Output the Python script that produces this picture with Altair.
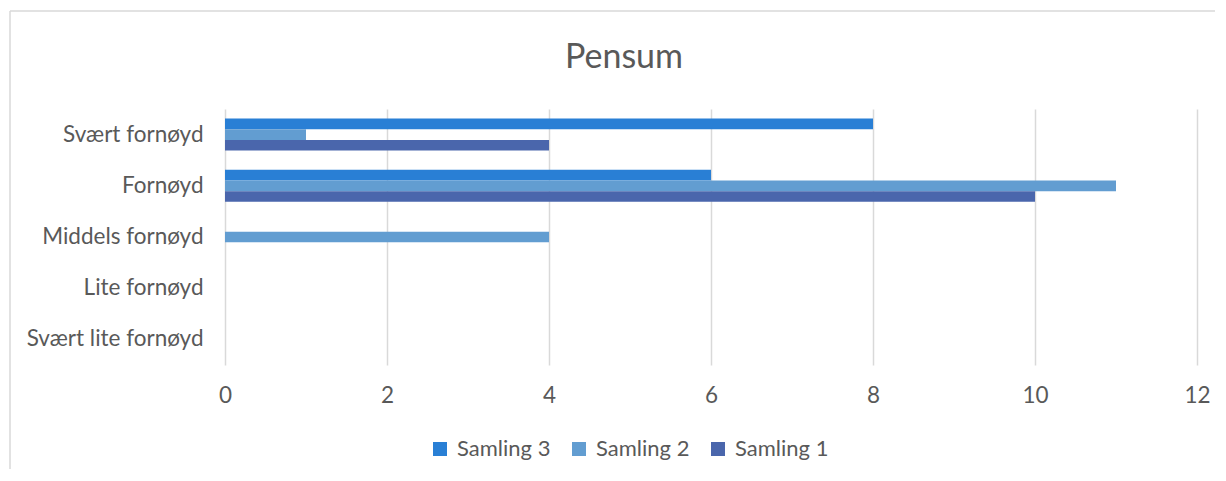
import altair as alt
import pandas as pd

categories = ["Svært fornøyd", "Fornøyd", "Middels fornøyd", "Lite fornøyd", "Svært lite fornøyd"]
series = ["Samling 3", "Samling 2", "Samling 1"]
samling3 = [8, 6, 0, 0, 0]
samling2 = [1, 11, 4, 0, 0]
samling1 = [4, 10, 0, 0, 0]
x_ticks = [0, 2, 4, 6, 8, 10, 12]
colors = ["#297FD5", "#629DD1", "#4A66AC"]

TEXT = "#595959"
FONT = "Lato"

rows = []
for s, vals in zip(series, [samling3, samling2, samling1]):
    for c, v in zip(categories, vals):
        rows.append({"Kategori": c, "Serie": s, "Antall": v})
df = pd.DataFrame(rows)

bars = alt.Chart(df).mark_bar().encode(
    y=alt.Y(
        "Kategori:N",
        sort=categories,
        scale=alt.Scale(paddingInner=0.375, paddingOuter=0.1875),
        axis=alt.Axis(
            title=None, labelFontSize=22.5, labelColor=TEXT, labelFont=FONT,
            labelPadding=22, ticks=False, domain=False, grid=False,
            minExtent=217, maxExtent=217,
        ),
    ),
    yOffset=alt.YOffset("Serie:N", sort=series),
    x=alt.X(
        "Antall:Q",
        scale=alt.Scale(domain=[0, 12], nice=False),
        axis=alt.Axis(
            title=None, values=x_ticks, labelFontSize=22.5, labelColor=TEXT,
            labelFont=FONT, labelPadding=19, labelFlush=False, ticks=False,
            domain=False, grid=True, gridColor="#D9D9D9", gridWidth=1.5,
        ),
    ),
    color=alt.Color(
        "Serie:N",
        sort=series,
        scale=alt.Scale(domain=series, range=colors),
        legend=alt.Legend(
            title=None, orient="none", legendX=204, legendY=329,
            direction="horizontal", symbolType="square", symbolSize=196,
            symbolStrokeWidth=0, labelFontSize=22, labelColor=TEXT,
            labelFont=FONT, columnPadding=17, labelOffset=6, padding=0,
        ),
    ),
)

frame_src = pd.DataFrame({"k": [0]})
frame_left = alt.Chart(frame_src).mark_rule(color="#D9D9D9", strokeWidth=1.5).encode(
    x=alt.value(-215), y=alt.value(-98), y2=alt.value(360)
)
frame_top = alt.Chart(frame_src).mark_rule(color="#D9D9D9", strokeWidth=1.5).encode(
    x=alt.value(-215), x2=alt.value(990), y=alt.value(-98)
)

chart = alt.layer(frame_left, frame_top, bars).properties(
    width=972,
    height=256,
    padding={"left": 0, "top": 2, "right": 0, "bottom": 0},
    title=alt.TitleParams(
        "Pensum", fontSize=34, font=FONT, color=TEXT, fontWeight="normal",
        anchor="middle", frame="group", dx=-87, dy=101, offset=36,
    ),
).configure_view(stroke=None)

chart.save("out.html", embed_options={"renderer": "svg", "actions": False})
